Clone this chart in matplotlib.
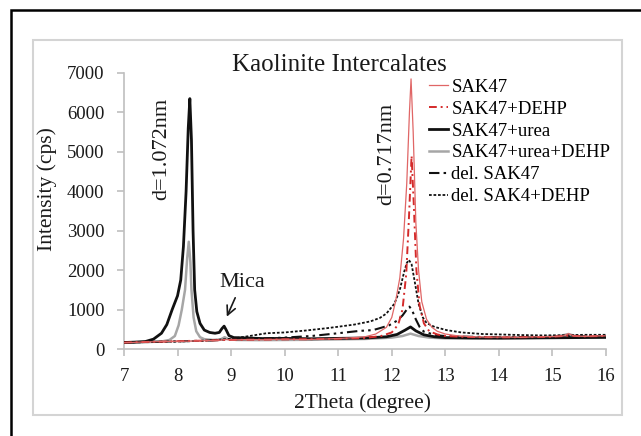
import matplotlib
matplotlib.use('Agg')
import matplotlib.pyplot as plt
from matplotlib.patches import Rectangle

plt.rcParams['font.family'] = ['Liberation Serif', 'DejaVu Serif']

# --- data ---
sak47_x = [7.0, 7.3, 7.6, 7.9, 8.2, 8.5, 8.8, 8.9, 9.0, 9.3, 9.6, 10.0, 10.4, 10.8, 11.2, 11.5, 11.7, 11.9,
           12.0, 12.07, 12.15, 12.22, 12.28, 12.33, 12.36, 12.4, 12.45, 12.5, 12.56, 12.65, 12.75, 12.85,
           13.0, 13.2, 13.5, 13.8, 14.1, 14.4, 14.7, 15.0, 15.2, 15.3, 15.4, 15.6, 15.8, 16.0]
sak47_y = [160, 175, 185, 195, 200, 210, 225, 240, 230, 240, 235, 250, 240, 255, 280, 310, 380, 550,
           800, 1200, 1800, 2800, 4200, 6000, 6850, 5500, 3200, 2000, 1200, 750, 550, 450,
           380, 340, 310, 300, 305, 295, 310, 315, 330, 390, 330, 320, 330, 335]

dehp_x = [7.0, 7.4, 7.8, 8.2, 8.6, 8.9, 9.2, 9.6, 10.0, 10.5, 11.0, 11.5, 11.8, 12.0, 12.12, 12.2, 12.27,
          12.32, 12.37, 12.41, 12.46, 12.52, 12.6, 12.7, 12.85, 13.0, 13.3, 13.7, 14.1, 14.5, 15.0, 15.3,
          15.6, 16.0]
dehp_y = [165, 180, 190, 205, 215, 230, 235, 240, 245, 250, 260, 280, 330, 420, 620, 1000, 1900,
          3300, 4900, 3700, 2000, 1100, 650, 450, 370, 330, 310, 300, 295, 300, 310, 340,
          320, 330]

urea_x = [7.0, 7.2, 7.4, 7.55, 7.7, 7.8, 7.9, 8.0, 8.06, 8.11, 8.16, 8.2, 8.23, 8.26, 8.29, 8.32, 8.36,
          8.42, 8.5, 8.6, 8.7, 8.78, 8.83, 8.87, 8.91, 8.96, 9.05, 9.3, 9.6, 10.0, 10.5, 11.0, 11.5,
          11.9, 12.1, 12.25, 12.35, 12.45, 12.6, 12.8, 13.0, 13.5, 14.0, 14.5, 15.0, 15.5, 16.0]
urea_y = [165, 175, 190, 250, 400, 620, 1000, 1350, 1750, 2600, 4000, 5600, 6350, 5300, 3000, 1500, 950,
          650, 480, 420, 400, 420, 520, 580, 480, 340, 290, 280, 265, 270, 260, 270, 280,
          310, 370, 480, 560, 460, 360, 310, 290, 280, 275, 280, 285, 290, 295]

urea_dehp_x = [7.0, 7.4, 7.7, 7.85, 7.95, 8.02, 8.08, 8.14, 8.18, 8.21, 8.24, 8.26, 8.3, 8.35, 8.42, 8.5,
               8.65, 8.8, 8.88, 8.95, 9.1, 9.5, 10.0, 10.5, 11.0, 11.5, 12.0, 12.2, 12.35, 12.5, 12.7,
               13.0, 13.5, 14.0, 14.5, 15.0, 15.3, 15.5, 16.0]
urea_dehp_y = [165, 175, 190, 230, 330, 600, 1000, 1500, 2300, 2720, 2200, 1500, 800, 450, 300, 250,
               230, 240, 300, 250, 230, 225, 230, 235, 245, 255, 290, 330, 390, 330, 290,
               270, 270, 275, 280, 290, 380, 300, 300]

del_x = [7.0, 7.5, 8.0, 8.5, 9.0, 9.5, 10.0, 10.5, 11.0, 11.4, 11.65, 11.78, 11.95, 12.1, 12.2, 12.28,
         12.33, 12.38, 12.45, 12.52, 12.6, 12.75, 12.9, 13.1, 13.5, 14.0, 14.5, 15.0, 15.5, 16.0]
del_y = [170, 180, 195, 210, 240, 260, 290, 330, 400, 460, 480, 530, 600, 720, 850, 1000,
         1075, 980, 750, 560, 440, 380, 340, 320, 310, 300, 300, 310, 320, 330]

del_dehp_x = [7.0, 7.5, 8.0, 8.5, 9.0, 9.3, 9.66, 10.0, 10.4, 10.8, 11.0, 11.3, 11.6, 11.78, 11.9, 12.05,
              12.15, 12.23, 12.28, 12.32, 12.37, 12.43, 12.5, 12.58, 12.65, 12.8, 13.02, 13.3, 13.7,
              14.0, 14.39, 14.8, 15.2, 15.6, 16.0]
del_dehp_y = [170, 175, 190, 210, 260, 320, 400, 420, 470, 530, 565, 620, 700, 790, 900, 1150,
              1500, 1950, 2180, 2260, 2150, 1700, 1150, 800, 660, 560, 480, 420, 380,
              370, 355, 345, 350, 360, 360]

x_ticks = [7, 8, 9, 10, 11, 12, 13, 14, 15, 16]
y_ticks = [0, 1000, 2000, 3000, 4000, 5000, 6000, 7000]

fig = plt.figure(figsize=(6.41, 4.36), dpi=100)
ax = fig.add_axes([0.1934, 0.1995, 0.752, 0.6331])

ax.plot(sak47_x, sak47_y, color='#e06666', lw=0.9, label='SAK47', zorder=6)
ax.plot(dehp_x, dehp_y, color='#d42a2a', lw=1.4, ls=(0, (4, 2, 1, 2)), label='SAK47+DEHP', zorder=5)
ax.plot(urea_x, urea_y, color='#111111', lw=2.0, label='SAK47+urea', zorder=4)
ax.plot(urea_dehp_x, urea_dehp_y, color='#a6a6a6', lw=1.8, label='SAK47+urea+DEHP', zorder=3)
ax.plot(del_x, del_y, color='#111111', lw=1.5, ls=(0, (5, 2, 1.2, 2, 1.2, 2)), label='del. SAK47', zorder=4)
ax.plot(del_dehp_x, del_dehp_y, color='#111111', lw=1.3, ls=(0, (1.5, 1)), label='del. SAK4+DEHP', zorder=4)

ax.set_xlim(7, 16)
ax.set_ylim(0, 7000)
ax.set_xticks(x_ticks)
ax.set_yticks(y_ticks)
for s in ['top', 'right']:
    ax.spines[s].set_visible(False)
for s in ['left', 'bottom']:
    ax.spines[s].set_color('#bfbfbf')
    ax.spines[s].set_linewidth(1.2)
ax.tick_params(axis='both', direction='out', length=5, width=1.2, color='#bfbfbf',
               labelsize=13.5, labelcolor='#1a1a1a')
ax.tick_params(axis='x', pad=9)
ax.tick_params(axis='y', pad=9)

ax.text(7.71, 5076, 'd=1.072nm', rotation=90, ha='center', va='center', fontsize=16, color='#1a1a1a')
ax.text(11.91, 4950, 'd=0.717nm', rotation=90, ha='center', va='center', fontsize=16, color='#1a1a1a')
ax.annotate('Mica', xy=(8.92, 820), xytext=(9.2, 1675), ha='center', va='center', fontsize=16,
            color='#1a1a1a', arrowprops=dict(arrowstyle='->', color='#1a1a1a', lw=1.2, shrinkA=2, shrinkB=0))

ax.legend(loc='upper left', bbox_to_anchor=(0.669, 0.819), bbox_transform=fig.transFigure,
          frameon=False, fontsize=13.5, handlelength=1.0, handletextpad=0.2, labelspacing=0.25,
          borderpad=0, borderaxespad=0)

fig.text(0.5296, 0.851, 'Kaolinite Intercalates', ha='center', va='center', fontsize=18, color='#1a1a1a')
fig.text(0.566, 0.0757, '2Theta (degree)', ha='center', va='center', fontsize=15.5, color='#1a1a1a')
fig.text(0.073, 0.5665, 'Intensity (cps)', rotation=90, ha='center', va='center', fontsize=15.5,
         color='#1a1a1a')

# inner light frame and outer black border
fig.patches.append(Rectangle((33 / 641, 1 - 415 / 436), 589 / 641, 375 / 436, transform=fig.transFigure,
                             fill=False, ec='#d4d4d4', lw=1.5))
fig.patches.append(Rectangle((11 / 641, -0.05), 1.1, 1 - 10 / 436 + 0.05, transform=fig.transFigure,
                             fill=False, ec='black', lw=1.8))

fig.savefig('out.png', dpi=100)
